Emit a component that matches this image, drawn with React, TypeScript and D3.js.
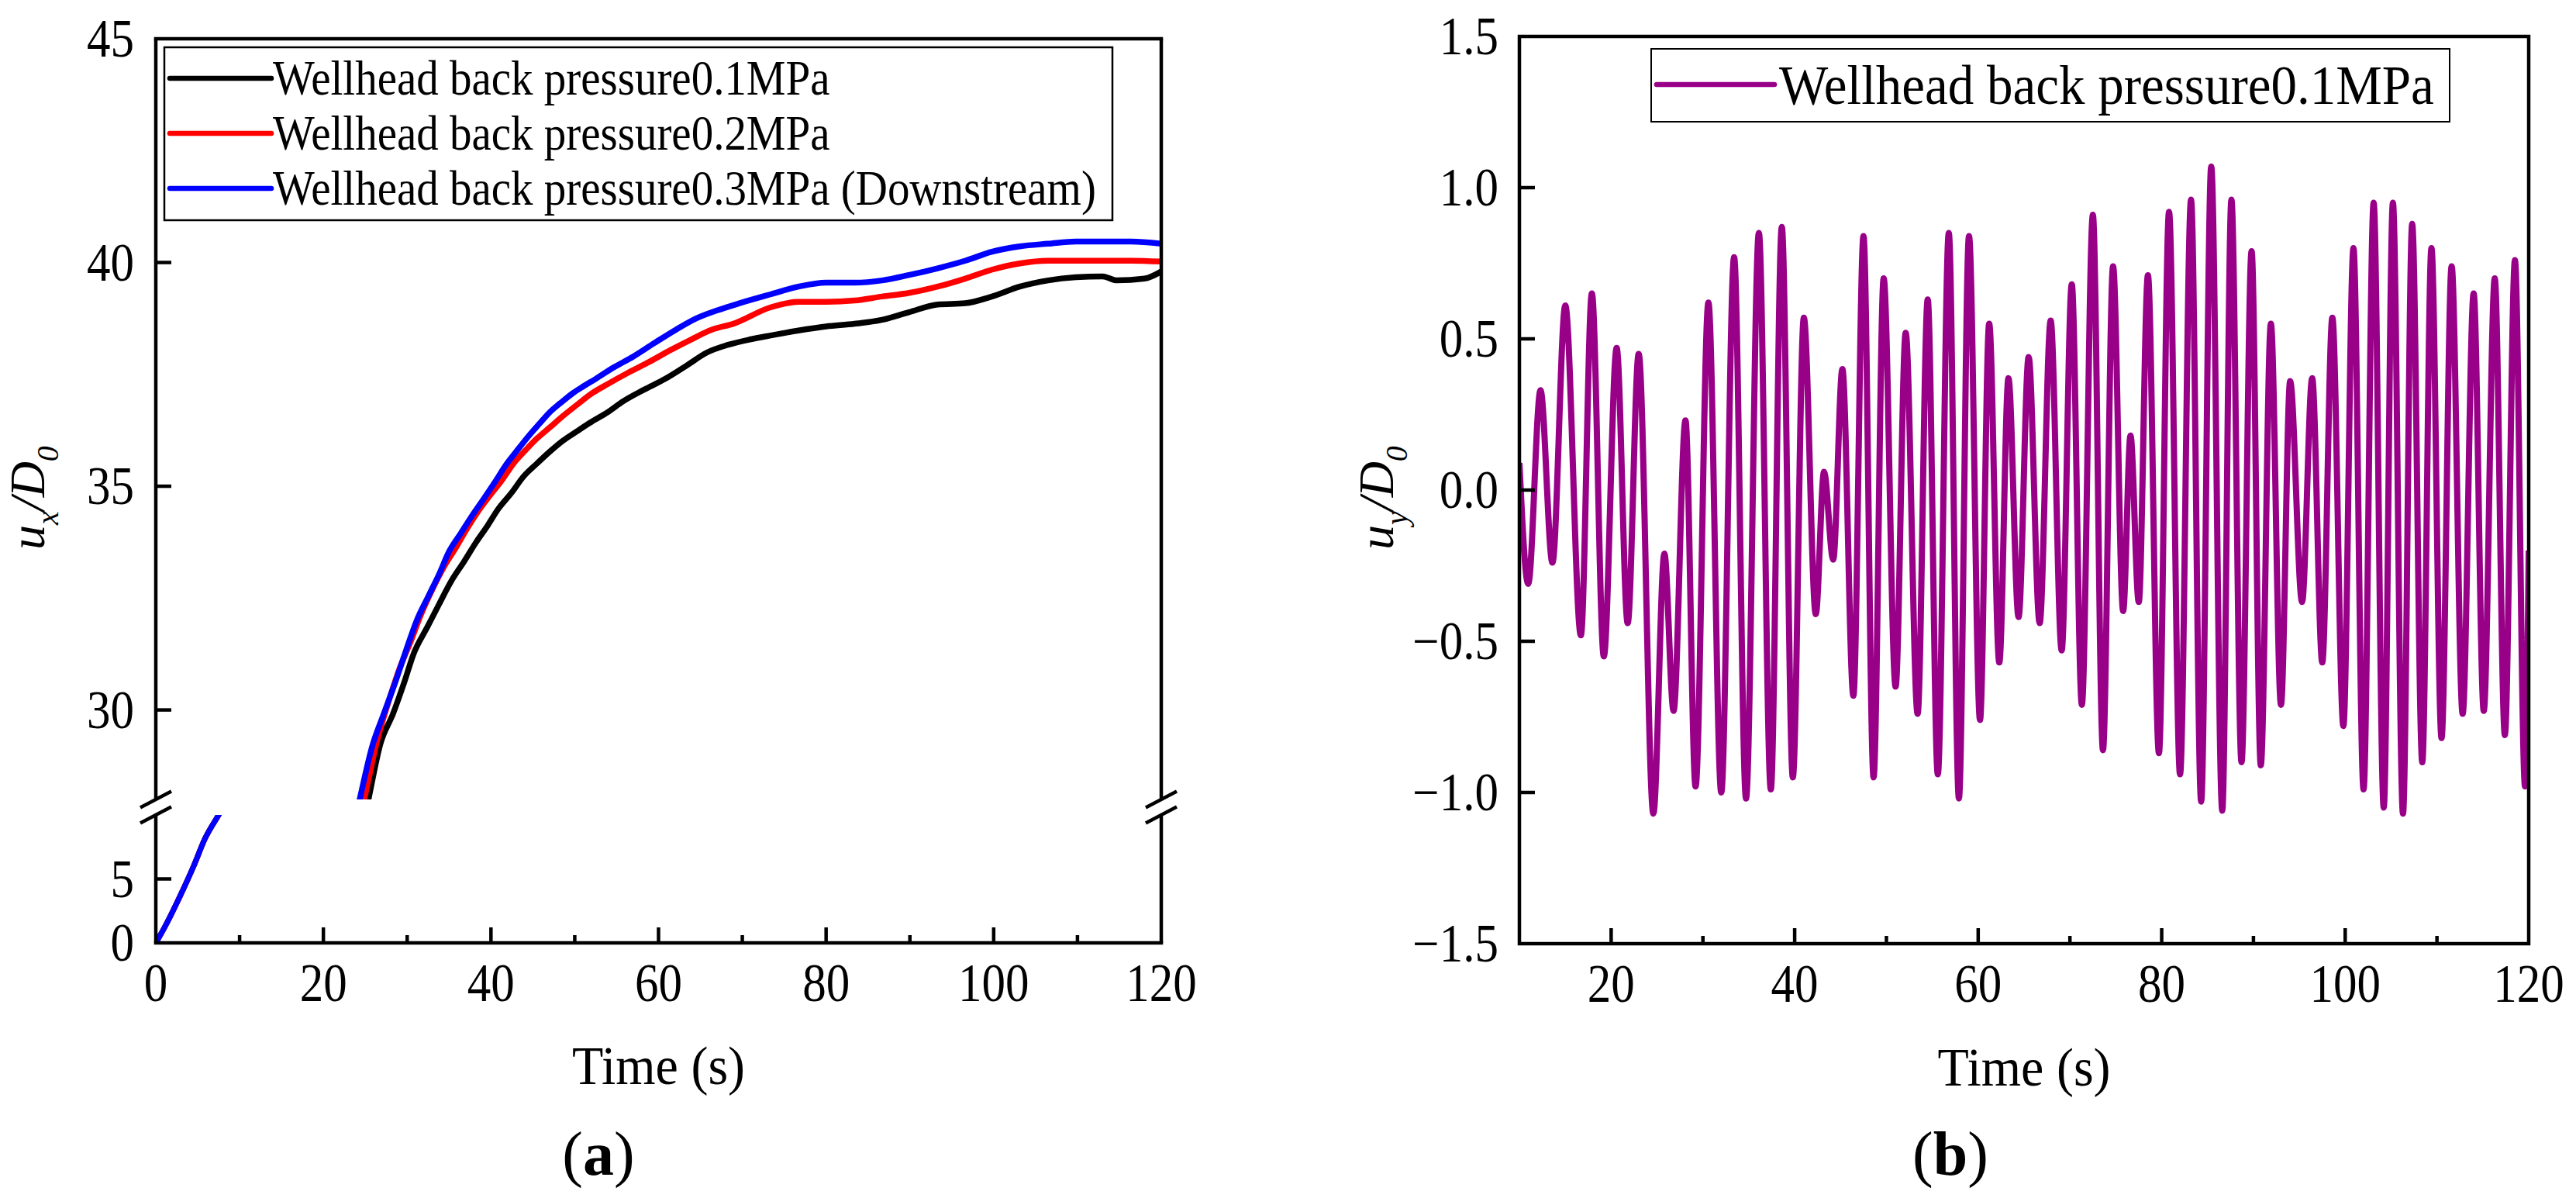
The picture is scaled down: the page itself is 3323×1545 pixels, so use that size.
import React from 'react';
import * as d3 from 'd3';

const W = 3323;
const H = 1545;
const FONT = '"Liberation Serif", "Times New Roman", serif';

// ---- panel (a): streamwise displacement, broken y axis ----
const legendA = [
  'Wellhead back pressure0.1MPa',
  'Wellhead back pressure0.2MPa',
  'Wellhead back pressure0.3MPa (Downstream)',
];
const colorsA = ['#000000', '#ff0000', '#0000ff'];

const tBlack = [0, 1, 2.9, 4.5, 5.9, 7.5, 25.4, 26.8, 28.3, 29.6, 30.8, 32.4, 33.8, 35.2, 36.8, 38.2, 39.6, 40.9, 42.4, 43.9, 45.5, 47.0, 48.6, 50.2, 52.0, 53.9, 55.8, 58.3, 60.8, 63.3, 65.8, 68.3, 70.9, 73.4, 76.7, 80.0, 83.4, 86.7, 89.9, 93.3, 96.6, 99.8, 103.1, 106.5, 109.8, 113.0, 114.7, 118.0, 120];
const uxBlack = [0, 1.16, 3.67, 5.98, 8.19, 10, 28.02, 29.24, 29.91, 30.59, 31.27, 31.85, 32.36, 32.86, 33.32, 33.74, 34.12, 34.5, 34.84, 35.22, 35.51, 35.77, 36.02, 36.22, 36.44, 36.65, 36.9, 37.16, 37.4, 37.69, 37.99, 38.16, 38.28, 38.37, 38.48, 38.57, 38.63, 38.72, 38.89, 39.06, 39.09, 39.24, 39.46, 39.6, 39.67, 39.69, 39.6, 39.64, 39.8];

const tRed = [0, 1, 2.9, 4.5, 5.9, 7.5, 24.9, 26.4, 27.9, 29.1, 30.4, 31.6, 33.0, 34.4, 35.8, 37.1, 38.4, 39.9, 41.3, 42.7, 44.1, 45.5, 47.0, 48.6, 50.2, 52.0, 53.9, 56.4, 58.9, 61.4, 63.9, 66.4, 68.9, 73.4, 76.7, 80.0, 83.4, 86.7, 89.9, 93.3, 96.6, 99.8, 103.1, 106.5, 109.8, 113.0, 116.4, 120];
const uxRed = [0, 1.16, 3.67, 5.98, 8.19, 10, 28.02, 29.3, 30.26, 30.93, 31.52, 32.11, 32.69, 33.2, 33.62, 34.04, 34.42, 34.8, 35.13, 35.51, 35.8, 36.07, 36.31, 36.57, 36.81, 37.07, 37.28, 37.54, 37.78, 38.04, 38.28, 38.5, 38.63, 39.0, 39.12, 39.12, 39.15, 39.24, 39.32, 39.46, 39.64, 39.84, 39.98, 40.04, 40.04, 40.04, 40.04, 40.02];

const tBlue = [0, 1, 2.9, 4.5, 5.9, 7.5, 24.4, 25.8, 27.2, 28.6, 29.9, 31.1, 32.5, 33.8, 35.0, 36.4, 37.7, 39.1, 40.5, 41.8, 43.0, 44.4, 45.8, 47.0, 48.3, 49.7, 51.1, 52.5, 54.7, 57.0, 59.5, 62.0, 64.5, 67.0, 69.5, 73.4, 76.7, 80.0, 83.4, 86.7, 89.9, 93.3, 96.6, 99.8, 103.1, 106.5, 109.8, 113.0, 116.4, 120];
const uxBlue = [0, 1.16, 3.67, 5.98, 8.19, 10, 28.06, 29.17, 29.91, 30.63, 31.35, 31.98, 32.53, 33.03, 33.54, 33.95, 34.33, 34.71, 35.1, 35.48, 35.77, 36.1, 36.4, 36.65, 36.86, 37.07, 37.24, 37.4, 37.66, 37.9, 38.2, 38.49, 38.75, 38.93, 39.08, 39.29, 39.46, 39.55, 39.55, 39.6, 39.72, 39.87, 40.04, 40.24, 40.36, 40.42, 40.47, 40.47, 40.47, 40.42];

const yTicksUpper = [30, 35, 40];
const yLabelsUpper = [30, 35, 40, 45];
const yTicksLower = [5];
const yLabelsLower = [0, 5];
const xMajorA = [20, 40, 60, 80, 100];
const xMinorA = [10, 30, 50, 70, 90, 110];
const xLabelsA = [0, 20, 40, 60, 80, 100, 120];

// ---- panel (b): cross-flow displacement (peaks and troughs) ----
const legendB = 'Wellhead back pressure0.1MPa';
const colorB = '#990088';

const tUy = [10, 10.96, 12.3, 13.6, 15.0, 16.7, 17.9, 19.2, 20.6, 21.8, 23.0, 24.6, 25.8, 26.8, 28.1, 29.2, 30.6, 32.0, 33.4, 34.7, 36.1, 37.4, 38.6, 39.8, 41.0, 42.3, 43.2, 44.2, 45.2, 46.4, 47.5, 48.6, 49.7, 51.0, 52.1, 53.4, 54.5, 55.6, 56.8, 57.9, 59.0, 60.2, 61.2, 62.3, 63.3, 64.4, 65.5, 66.7, 67.9, 69.1, 70.2, 71.3, 72.5, 73.6, 74.7, 75.8, 76.6, 77.5, 78.5, 79.7, 80.8, 82.0, 83.2, 84.3, 85.4, 86.6, 87.6, 88.7, 89.8, 90.8, 91.9, 93.0, 94.0, 95.3, 96.4, 97.5, 98.6, 99.8, 100.9, 102.0, 103.1, 104.2, 105.2, 106.3, 107.3, 108.4, 109.4, 110.5, 111.6, 112.8, 114.0, 115.1, 116.3, 117.4, 118.5, 119.6, 120];
const uy = [0.09, -0.31, 0.33, -0.24, 0.61, -0.48, 0.65, -0.55, 0.47, -0.44, 0.45, -1.07, -0.21, -0.73, 0.23, -0.98, 0.62, -1.0, 0.77, -1.02, 0.85, -0.99, 0.87, -0.95, 0.57, -0.41, 0.06, -0.23, 0.4, -0.68, 0.84, -0.95, 0.7, -0.65, 0.52, -0.74, 0.63, -0.94, 0.85, -1.02, 0.84, -0.76, 0.55, -0.57, 0.37, -0.42, 0.44, -0.44, 0.56, -0.53, 0.68, -0.71, 0.91, -0.86, 0.74, -0.4, 0.18, -0.37, 0.71, -0.87, 0.92, -0.94, 0.96, -1.03, 1.07, -1.06, 0.96, -0.9, 0.79, -0.91, 0.55, -0.71, 0.36, -0.37, 0.37, -0.57, 0.57, -0.78, 0.8, -0.99, 0.95, -1.05, 0.95, -1.07, 0.88, -0.9, 0.8, -0.82, 0.74, -0.74, 0.65, -0.73, 0.7, -0.81, 0.76, -0.98, -0.2];

const yTicksB = [-1, -0.5, 0, 0.5, 1];
const yLabelsB = [-1.5, -1, -0.5, 0, 0.5, 1, 1.5];
const xMajorB = [20, 40, 60, 80, 100];
const xMinorB = [30, 50, 70, 90, 110];
const xLabelsB = [20, 40, 60, 80, 100, 120];

const AXIS_W = 4.5;
const STRETCH = 1.13;

const Txt = ({ x, y, size, anchor = 'middle', children, weight = 'normal', sy = STRETCH }: any) => (
  <text
    transform={`translate(${x},${y}) scale(1,${sy})`}
    fontFamily={FONT}
    fontSize={size}
    fontWeight={weight}
    textAnchor={anchor}
    fill="#000"
  >
    {children}
  </text>
);

const App = () => {
  // panel (a) scales
  const xA = d3.scaleLinear().domain([0, 120]).range([201, 1498]);
  const yUp = d3.scaleLinear().domain([28, 45]).range([1031, 50]);
  const yLo = d3.scaleLinear().domain([0, 10]).range([1216, 1051]);
  // panel (b) scales
  const xB = d3.scaleLinear().domain([10, 120]).range([1960, 3262]);
  const yB = d3.scaleLinear().domain([-1.5, 1.5]).range([1217, 47]);

  const seriesA = [
    { t: tBlack, v: uxBlack },
    { t: tRed, v: uxRed },
    { t: tBlue, v: uxBlue },
  ];

  const lineFor = (yScale: d3.ScaleLinear<number, number>) =>
    d3.line<[number, number]>()
      .x(d => xA(d[0]))
      .y(d => yScale(d[1]))
      .curve(d3.curveMonotoneX);

  const lineB = d3.line<[number, number]>()
    .x(d => xB(d[0]))
    .y(d => yB(d[1]))
    .curve(d3.curveMonotoneX);

  const pairs = (t: number[], v: number[]) => t.map((d, i) => [d, v[i]] as [number, number]);

  const fmtB = d3.format('.1f');

  const [aL, aR] = xA.range();
  const aTop = yUp(45);
  const aBot = yLo(0);
  const breakTop = yUp(28);
  const breakBot = yLo(10);

  const [bL, bR] = xB.range();
  const bTop = yB(1.5);
  const bBot = yB(-1.5);

  const breakMark = (x: number, y: number, k: string) => (
    <line key={k} x1={x - 20} y1={y + 10.5} x2={x + 20} y2={y - 10.5} stroke="#000" strokeWidth={AXIS_W} />
  );

  return (
    <svg width={W} height={H} style={{ position: 'absolute', left: 0, top: 0, background: '#fff' }}>
      <defs>
        <clipPath id="clipUp">
          <rect x={aL} y={aTop} width={aR - aL} height={breakTop - aTop} />
        </clipPath>
        <clipPath id="clipLo">
          <rect x={aL} y={breakBot} width={aR - aL} height={aBot - breakBot} />
        </clipPath>
        <clipPath id="clipB">
          <rect x={bL} y={bTop} width={bR - bL} height={bBot - bTop} />
        </clipPath>
      </defs>
      <rect x={0} y={0} width={W} height={H} fill="#fff" />

      {/* ===== panel (a) ===== */}
      <g clipPath="url(#clipUp)">
        {seriesA.map((s, i) => (
          <path key={'u' + i} d={lineFor(yUp)(pairs(s.t, s.v)) || ''} fill="none" stroke={colorsA[i]} strokeWidth={7.5} strokeLinejoin="round" />
        ))}
      </g>
      <g clipPath="url(#clipLo)">
        {seriesA.map((s, i) => (
          <path key={'l' + i} d={lineFor(yLo)(pairs(s.t, s.v)) || ''} fill="none" stroke={colorsA[i]} strokeWidth={7} strokeLinejoin="round" />
        ))}
      </g>

      {/* frame */}
      <line x1={aL} y1={aTop} x2={aR} y2={aTop} stroke="#000" strokeWidth={AXIS_W} strokeLinecap="square" />
      <line x1={aL} y1={aBot} x2={aR} y2={aBot} stroke="#000" strokeWidth={AXIS_W} strokeLinecap="square" />
      {[aL, aR].map(x => (
        <g key={'ax' + x}>
          <line x1={x} y1={aTop} x2={x} y2={breakTop} stroke="#000" strokeWidth={AXIS_W} />
          <line x1={x} y1={breakBot} x2={x} y2={aBot} stroke="#000" strokeWidth={AXIS_W} />
          {breakMark(x, breakTop, 'bt' + x)}
          {breakMark(x, breakBot, 'bb' + x)}
        </g>
      ))}

      {/* y ticks (inside) */}
      {yTicksUpper.map(v => (
        <line key={'yu' + v} x1={aL} y1={yUp(v)} x2={aL + 20} y2={yUp(v)} stroke="#000" strokeWidth={AXIS_W} />
      ))}
      {yTicksLower.map(v => (
        <line key={'yl' + v} x1={aL} y1={yLo(v)} x2={aL + 20} y2={yLo(v)} stroke="#000" strokeWidth={AXIS_W} />
      ))}
      {yLabelsUpper.map(v => (
        <Txt key={'yuL' + v} x={173} y={yUp(v) + 23} size={61} anchor="end">{v}</Txt>
      ))}
      {yLabelsLower.map(v => (
        <Txt key={'ylL' + v} x={173} y={yLo(v) + 23} size={61} anchor="end">{v}</Txt>
      ))}

      {/* x ticks */}
      {xMajorA.map(v => (
        <line key={'xa' + v} x1={xA(v)} y1={aBot} x2={xA(v)} y2={aBot - 20} stroke="#000" strokeWidth={AXIS_W} />
      ))}
      {xMinorA.map(v => (
        <line key={'xm' + v} x1={xA(v)} y1={aBot} x2={xA(v)} y2={aBot - 10} stroke="#000" strokeWidth={AXIS_W} />
      ))}
      {xLabelsA.map(v => (
        <Txt key={'xaL' + v} x={xA(v)} y={1291} size={61}>{v}</Txt>
      ))}

      <Txt x={(aL + aR) / 2} y={1398} size={66} sy={1.05}>Time (s)</Txt>
      <text transform="translate(57,642) rotate(-90)" fontFamily={FONT} fontSize={64} textAnchor="middle" fontStyle="italic">
        <tspan>u</tspan>
        <tspan fontSize={40} dy={18}>x</tspan>
        <tspan dy={-18}>/D</tspan>
        <tspan fontSize={40} dy={18}>0</tspan>
      </text>
      <text x={772} y={1515} fontFamily={FONT} fontSize={80} textAnchor="middle">
        (<tspan fontWeight="bold">a</tspan>)
      </text>

      {/* legend (a) */}
      <rect x={212} y={61} width={1435 - 212} height={284 - 61} fill="#fff" stroke="#000" strokeWidth={2.5} />
      {legendA.map((name, i) => {
        const yy = 101 + i * 71;
        return (
          <g key={'lg' + i}>
            <line x1={219} y1={yy} x2={350} y2={yy} stroke={colorsA[i]} strokeWidth={6.5} strokeLinecap="round" />
            <Txt x={352} y={yy + 21} size={57} anchor="start">{name}</Txt>
          </g>
        );
      })}

      {/* ===== panel (b) ===== */}
      <g clipPath="url(#clipB)">
        <path d={lineB(pairs(tUy, uy)) || ''} fill="none" stroke={colorB} strokeWidth={8} strokeLinejoin="round" />
      </g>
      <rect x={bL} y={bTop} width={bR - bL} height={bBot - bTop} fill="none" stroke="#000" strokeWidth={AXIS_W} />

      {yTicksB.map(v => (
        <line key={'yb' + v} x1={bL} y1={yB(v)} x2={bL + 20} y2={yB(v)} stroke="#000" strokeWidth={AXIS_W} />
      ))}
      {yLabelsB.map(v => (
        <Txt key={'ybL' + v} x={1933} y={yB(v) + 23} size={61} anchor="end">{fmtB(v)}</Txt>
      ))}
      {xMajorB.map(v => (
        <line key={'xb' + v} x1={xB(v)} y1={bBot} x2={xB(v)} y2={bBot - 20} stroke="#000" strokeWidth={AXIS_W} />
      ))}
      {xMinorB.map(v => (
        <line key={'xbm' + v} x1={xB(v)} y1={bBot} x2={xB(v)} y2={bBot - 10} stroke="#000" strokeWidth={AXIS_W} />
      ))}
      {xLabelsB.map(v => (
        <Txt key={'xbL' + v} x={xB(v)} y={1292} size={61}>{v}</Txt>
      ))}

      <Txt x={(bL + bR) / 2} y={1400} size={66} sy={1.05}>Time (s)</Txt>
      <text transform="translate(1797,642) rotate(-90)" fontFamily={FONT} fontSize={64} textAnchor="middle" fontStyle="italic">
        <tspan>u</tspan>
        <tspan fontSize={40} dy={18}>y</tspan>
        <tspan dy={-18}>/D</tspan>
        <tspan fontSize={40} dy={18}>0</tspan>
      </text>
      <text x={2516} y={1515} fontFamily={FONT} fontSize={80} textAnchor="middle">
        (<tspan fontWeight="bold">b</tspan>)
      </text>

      {/* legend (b) */}
      <rect x={2130} y={63} width={3160 - 2130} height={157 - 63} fill="#fff" stroke="#000" strokeWidth={2} />
      <line x1={2137} y1={109} x2={2289} y2={109} stroke={colorB} strokeWidth={6.5} strokeLinecap="round" />
      <Txt x={2295} y={134} size={67} anchor="start" sy={1.08}>{legendB}</Txt>
    </svg>
  );
};

export default App;
